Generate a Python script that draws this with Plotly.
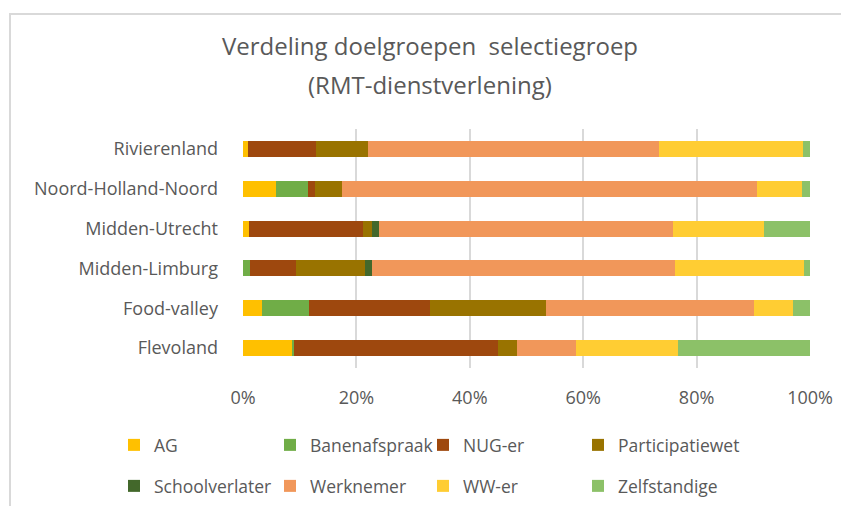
import plotly.graph_objects as go

# Regio's (van onder naar boven)
regios = ["Flevoland", "Food-valley", "Midden-Limburg", "Midden-Utrecht",
          "Noord-Holland-Noord", "Rivierenland"]

# Aandeel per doelgroep in procenten
ag = [8.7, 3.4, 0.0, 1.1, 5.8, 0.9]
banenafspraak = [0.3, 8.2, 1.2, 0.0, 5.6, 0.0]
nug_er = [36.0, 21.3, 8.1, 20.0, 1.3, 12.0]
participatiewet = [3.4, 20.5, 12.3, 1.7, 4.7, 9.1]
schoolverlater = [0.0, 0.0, 1.1, 1.1, 0.0, 0.0]
werknemer = [10.3, 36.7, 53.5, 52.0, 73.3, 51.4]
ww_er = [18.0, 6.9, 22.7, 16.0, 7.9, 25.3]
zelfstandige = [23.3, 3.0, 1.1, 8.1, 1.4, 1.3]

tick_waarden = [0, 20, 40, 60, 80, 100]
tick_teksten = ["0%", "20%", "40%", "60%", "80%", "100%"]

reeksen = [
    ("AG", ag, "#FFC000"),
    ("Banenafspraak", banenafspraak, "#70AD47"),
    ("NUG-er", nug_er, "#9E480E"),
    ("Participatiewet", participatiewet, "#997300"),
    ("Schoolverlater", schoolverlater, "#43682B"),
    ("Werknemer", werknemer, "#F1975A"),
    ("WW-er", ww_er, "#FFCD33"),
    ("Zelfstandige", zelfstandige, "#8CC168"),
]

grijs = "#595959"
lettertype = "Open Sans"

# pagina heeft 8px marge, dus alles 8px kleiner/verschoven
OFF = 8
W, H = 849 - OFF, 506 - OFF
l, t = 243 - OFF, 129 - OFF
r, b = W - (810 - OFF), H - (368 - OFF)
pw, ph = W - l - r, H - t - b


def px_x(x):
    # pixel in referentie -> paper x
    return (x - OFF - l) / pw


def px_y(y):
    # pixel in referentie -> paper y
    return (H - b - (y - OFF)) / ph


# legenda: 4 kolommen, 2 rijen, elke reeks een eigen legenda
kolommen = [114, 270, 423, 578]
rijen = [445, 486]

fig = go.Figure()
legendas = {}
for i, (naam, waarden, kleur) in enumerate(reeksen):
    leg_id = "legend" if i == 0 else f"legend{i + 1}"
    fig.add_trace(go.Bar(
        y=regios,
        x=waarden,
        name=naam,
        orientation="h",
        marker=dict(color=kleur, line=dict(width=0)),
        legend=leg_id,
    ))
    legendas[leg_id] = dict(
        orientation="h",
        xanchor="left",
        yanchor="middle",
        x=px_x(kolommen[i % 4]),
        y=px_y(rijen[i // 4]),
        font=dict(family=lettertype, size=17.5, color=grijs),
        bgcolor="rgba(0,0,0,0)",
    )

fig.update_layout(
    width=W,
    height=H,
    barmode="stack",
    bargap=0.6,
    plot_bgcolor="white",
    paper_bgcolor="white",
    margin=dict(l=l, r=r, t=t, b=b, autoexpand=False),
    font=dict(family=lettertype, color=grijs),
    title=dict(
        text="Verdeling doelgroepen  selectiegroep",
        xref="container",
        x=(430 - OFF) / W,
        xanchor="center",
        yref="container",
        y=1 - (47 - OFF) / H,
        yanchor="middle",
        font=dict(family=lettertype, size=24, color=grijs),
    ),
    annotations=[
        dict(text="(RMT-dienstverlening)", xref="paper", yref="paper",
             x=px_x(430), y=px_y(84), xanchor="center", yanchor="middle",
             showarrow=False, font=dict(family=lettertype, size=24, color=grijs)),
    ],
    showlegend=True,
    shapes=[
        # lichte kader rond de grafiek
        dict(type="rect", xref="paper", yref="paper",
             x0=px_x(10), x1=px_x(870), y0=px_y(530), y1=px_y(14),
             line=dict(color="#D9D9D9", width=2), layer="below"),
    ],
    **legendas,
)

fig.update_xaxes(
    range=[0, 100],
    tickvals=tick_waarden,
    ticktext=tick_teksten,
    showgrid=True,
    gridcolor="#D9D9D9",
    gridwidth=1.5,
    zeroline=False,
    showline=False,
    ticks="",
    ticklabelstandoff=17,
    tickfont=dict(family=lettertype, size=18, color=grijs),
)
fig.update_yaxes(
    showgrid=False,
    showline=False,
    ticks="",
    ticklabelstandoff=24,
    tickfont=dict(family=lettertype, size=18, color=grijs),
)

fig.write_html("out.html")
